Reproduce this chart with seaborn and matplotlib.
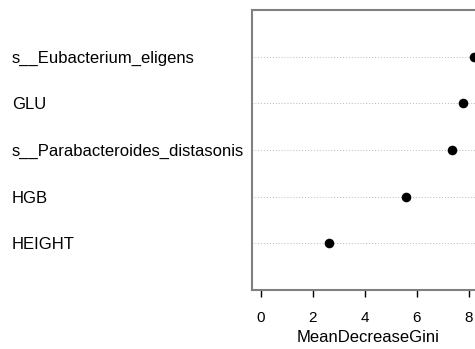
import matplotlib
matplotlib.use("Agg")
import matplotlib.pyplot as plt
import seaborn as sns
import pandas as pd

# variable importance from the random forest (top = most important)
features = ["s__Eubacterium_eligens", "GLU", "s__Parabacteroides_distasonis", "HGB", "HEIGHT"]
gini = [8.20, 7.77, 7.36, 5.59, 2.61]
xticks = [0, 2, 4, 6, 8]

df = pd.DataFrame({"feature": features, "gini": gini})
# dotchart style: first feature on top
df["pos"] = list(range(len(features), 0, -1))

sns.set_style("white")
plt.rcParams["font.family"] = ["Liberation Sans", "DejaVu Sans"]
plt.rcParams["text.color"] = "black"
plt.rcParams["axes.labelcolor"] = "black"
plt.rcParams["xtick.color"] = "black"
plt.rcParams["ytick.color"] = "black"

fig = plt.figure(figsize=(4.75, 3.49), dpi=100)
ax = fig.add_axes([252 / 475, 1 - 290 / 349, 233 / 475, 280 / 349])

for p in df["pos"]:
    ax.axhline(p, color="#b8b8b8", linestyle=(0, (1, 2)), linewidth=0.7, zorder=1)

sns.scatterplot(data=df, x="gini", y="pos", ax=ax, color="black", s=48,
                edgecolor="black", linewidth=0, zorder=3, legend=False)

ax.set_xlim(-0.335, 8.627)
ax.set_ylim(0, len(features) + 1)
ax.set_xticks(xticks)
ax.set_xticklabels([str(t) for t in xticks], fontsize=11)
ax.set_yticks(df["pos"])
ax.set_yticklabels(df["feature"], fontsize=12, ha="left")
ax.tick_params(axis="y", length=0, pad=172.8)
ax.tick_params(axis="x", length=5, width=1, color="black", pad=10, direction="out",
               bottom=True)
ax.set_xlabel("MeanDecreaseGini", fontsize=12, labelpad=4)
ax.set_ylabel("")

for side in ax.spines.values():
    side.set_color("#808080")
    side.set_linewidth(1.5)

fig.savefig("out.png", dpi=100)
